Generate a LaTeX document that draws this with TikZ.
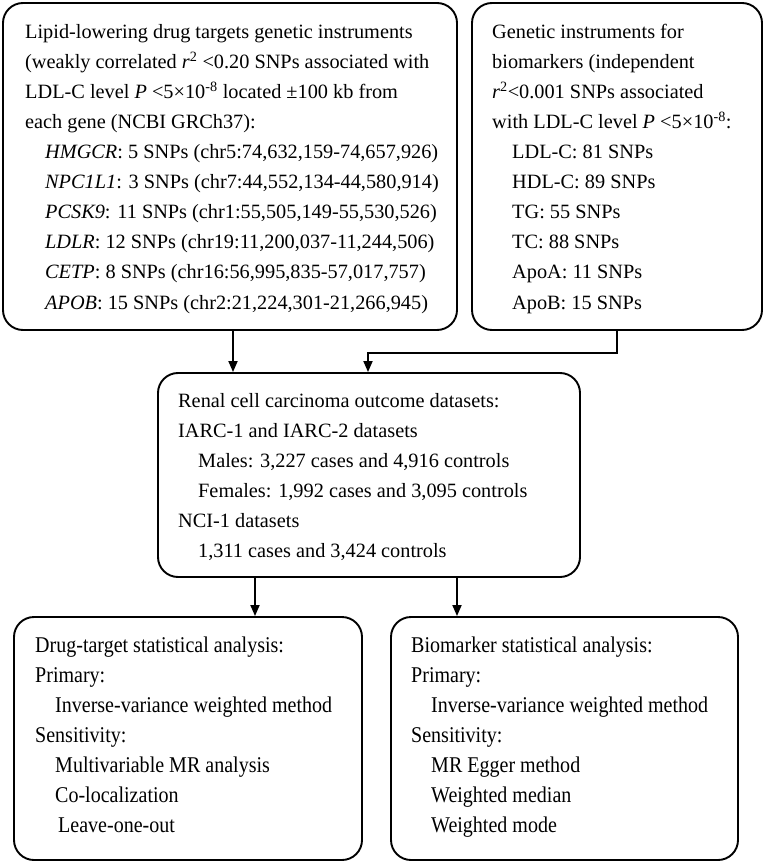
\documentclass[tikz,border=0pt]{standalone}
\usepackage{fontspec}
\setmainfont{Liberation Serif}
\newfontfamily\condfont[FakeStretch=0.89]{Liberation Serif}
\usetikzlibrary{arrows.meta}
\newcommand{\myline}[4]{\node[txt] (#1) at (#2,-#3) {#4};}
\newcommand{\mylineb}[4]{\node[txtb] (#1) at (#2,-#3) {#4};}
\begin{document}
\begin{tikzpicture}[x=1pt,y=1pt,
  box/.style={draw, line width=1.9pt, rounded corners=20pt, rectangle, inner sep=0pt},
  txt/.style={anchor=base west, inner sep=0pt, font=\fontsize{20.3}{30}\selectfont},
  txtb/.style={anchor=base west, inner sep=0pt, font=\condfont\fontsize{22.5}{30}\selectfont},
  arr/.style={line width=1.8pt, -{Triangle[length=11pt,width=9pt]}}]
\useasboundingbox (0,0) rectangle (767,-866);
% boxes
\node[box, minimum width=454pt, minimum height=327pt] (box1) at (230,-166.5) {};
\node[box, minimum width=290pt, minimum height=327pt] (box2) at (617,-166.5) {};
\node[box, minimum width=422pt, minimum height=204pt] (box3) at (369,-475) {};
\node[box, minimum width=348pt, minimum height=243pt] (box4) at (188,-738.5) {};
\node[box, minimum width=347pt, minimum height=243pt] (box5) at (564.5,-738.5) {};
% box 1 text
\myline{a1}{25}{39}{Lipid-lowering drug targets genetic instruments}
\myline{a2}{25}{69}{(weakly correlated \textit{r}\textsuperscript{2} <0.20 SNPs associated with}
\myline{a3}{25}{99}{LDL-C level \textit{P} <5×10\textsuperscript{-8} located ±100 kb from}
\myline{a4}{25}{129}{each gene (NCBI GRCh37):}
\myline{a5}{45}{159}{\textit{HMGCR}: 5 SNPs (chr5:74,632,159-74,657,926)}
\myline{a6}{45}{189}{\textit{NPC1L1}: 3 SNPs (chr7:44,552,134-44,580,914)}
\myline{a7}{45}{219}{\textit{PCSK9}: 11 SNPs (chr1:55,505,149-55,530,526)}
\myline{a8}{45}{249}{\textit{LDLR}: 12 SNPs (chr19:11,200,037-11,244,506)}
\myline{a9}{45}{279}{\textit{CETP}: 8 SNPs (chr16:56,995,835-57,017,757)}
\myline{a10}{45}{309}{\textit{APOB}: 15 SNPs (chr2:21,224,301-21,266,945)}
% box 2 text
\myline{b1}{492}{39}{Genetic instruments for}
\myline{b2}{492}{69}{biomarkers (independent}
\myline{b3}{492}{99}{\textit{r}\textsuperscript{2}<0.001 SNPs associated}
\myline{b4}{492}{129}{with LDL-C level \textit{P} <5×10\textsuperscript{-8}:}
\myline{b5}{512}{159}{LDL-C: 81 SNPs}
\myline{b6}{512}{189}{HDL-C: 89 SNPs}
\myline{b7}{512}{219}{TG: 55 SNPs}
\myline{b8}{512}{249}{TC: 88 SNPs}
\myline{b9}{512}{279}{ApoA: 11 SNPs}
\myline{b10}{512}{309}{ApoB: 15 SNPs}
% box 3 text
\myline{c1}{178}{407}{Renal cell carcinoma outcome datasets:}
\myline{c2}{178}{437}{IARC-1 and IARC-2 datasets}
\myline{c3}{198}{467}{Males: 3,227 cases and 4,916 controls}
\myline{c4}{198}{497}{Females: 1,992 cases and 3,095 controls}
\myline{c5}{178}{527}{NCI-1 datasets}
\myline{c6}{198}{557}{1,311 cases and 3,424 controls}
% box 4 text
\mylineb{d1}{35}{652}{Drug-target statistical analysis:}
\mylineb{d2}{35}{682}{Primary:}
\mylineb{d3}{55}{712}{Inverse-variance weighted method}
\mylineb{d4}{35}{742}{Sensitivity:}
\mylineb{d5}{55}{772}{Multivariable MR analysis}
\mylineb{d6}{55}{802}{Co-localization}
\mylineb{d7}{58}{832}{Leave-one-out}
% box 5 text
\mylineb{e1}{411}{652}{Biomarker statistical analysis:}
\mylineb{e2}{411}{682}{Primary:}
\mylineb{e3}{431}{712}{Inverse-variance weighted method}
\mylineb{e4}{411}{742}{Sensitivity:}
\mylineb{e5}{431}{772}{MR Egger method}
\mylineb{e6}{431}{802}{Weighted median}
\mylineb{e7}{431}{832}{Weighted mode}
% connectors
\draw[arr] ([xshift=3pt]box1.south) -- ([xshift=3pt]box1.south |- box3.north);
\draw[arr] (box2.south) -- ++(0,-22) -| ([xshift=-1pt]box3.north);
\draw[arr] ([xshift=-114pt]box3.south) -- ([xshift=-114pt]box3.south |- box4.north);
\draw[arr] ([xshift=88pt]box3.south) -- ([xshift=88pt]box3.south |- box5.north);
\end{tikzpicture}
\end{document}
